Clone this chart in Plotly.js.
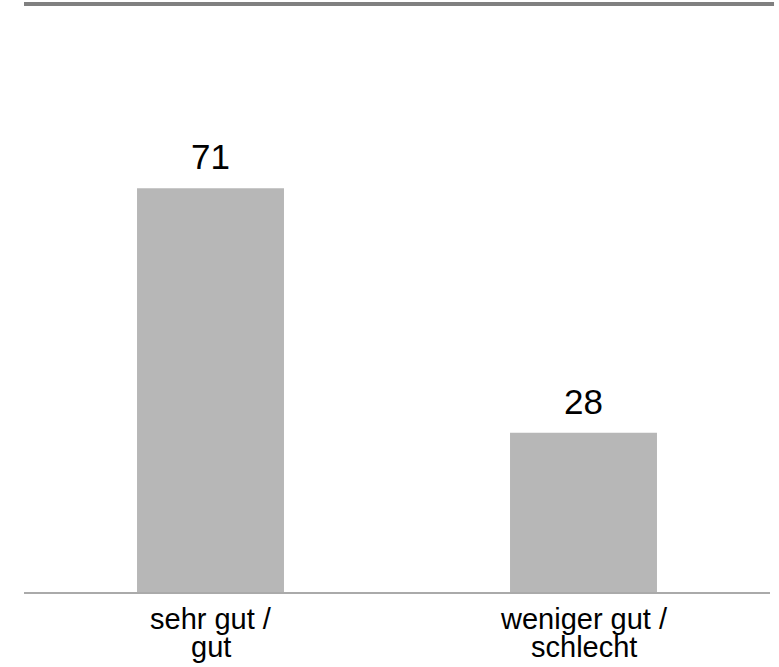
<!DOCTYPE html>
<html><head><meta charset="utf-8">
<script src="https://cdn.plot.ly/plotly-3.0.1.min.js"></script>
<style>body{margin:0;background:#fff}</style>
</head><body><div id="chart" style="width:779px;height:667px"></div>
<script>
const categories = ["sehr gut / gut", "weniger gut / schlecht"];
const categoryLines = [["sehr gut /", "gut"], ["weniger gut /", "schlecht"]];
const values = [71, 28];
const valueLabels = ["71", "28"];

const FONT = "Liberation Sans, Arial, sans-serif";

const trace = {
  type: "bar",
  x: categories,
  y: values,
  marker: {color: "#b7b7b7"},
  hoverinfo: "none"
};

const annotations = [];
categories.forEach((c, i) => {
  annotations.push({
    x: c, y: values[i], text: valueLabels[i],
    xref: "x", yref: "y", showarrow: false,
    yanchor: "bottom", yshift: 10,
    font: {family: FONT, size: 35, color: "#000"}
  });
  categoryLines[i].forEach((line, j) => {
    annotations.push({
      x: c, y: 0, text: line,
      xref: "x", yref: "y", showarrow: false,
      yanchor: "bottom", yshift: -45 - 28 * j,
      font: {family: FONT, size: 29, color: "#000"}
    });
  });
});

const layout = {
  width: 779, height: 667,
  margin: {l: 24, r: 9, t: 5, b: 75},
  paper_bgcolor: "#fff", plot_bgcolor: "#fff",
  bargap: 0.606,
  showlegend: false,
  xaxis: {
    showline: true, linecolor: "#aaaaaa", linewidth: 2,
    ticks: "", showgrid: false, zeroline: false, showticklabels: false
  },
  yaxis: {
    range: [0, 103.2], visible: false, showgrid: false, zeroline: false
  },
  shapes: [{
    type: "line", xref: "paper", yref: "paper",
    x0: 0, x1: 1.0054, y0: 1.0017, y1: 1.0017,
    line: {color: "#808080", width: 4}
  }],
  annotations: annotations
};

Plotly.newPlot("chart", [trace], layout, {displayModeBar: false, staticPlot: true});
</script>
</body></html>
